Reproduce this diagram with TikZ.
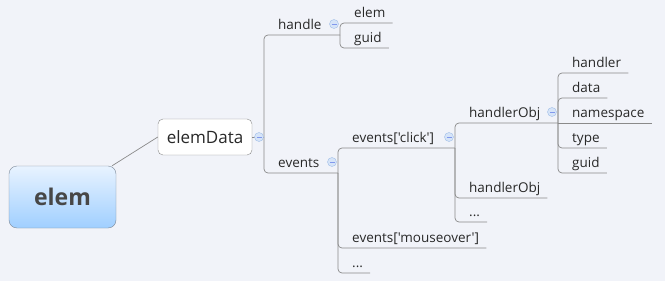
\documentclass[tikz,border=0pt]{standalone}
\usepackage{fontspec}
\setmainfont{Open Sans}[Ligatures=TeXOff]
\usepackage{tikz}
\usetikzlibrary{calc}
\definecolor{paper}{RGB}{241,243,249}
\definecolor{wire}{RGB}{138,138,138}
\definecolor{txt}{RGB}{40,40,40}
\definecolor{rootTop}{RGB}{232,243,255}
\definecolor{rootBot}{RGB}{160,207,255}
\definecolor{rootLine}{RGB}{125,138,153}
\definecolor{foldFill}{RGB}{214,228,248}
\definecolor{foldLine}{RGB}{160,190,232}

\begin{document}
\begin{tikzpicture}[x=1pt, y=-1pt,
  ln/.style={draw=wire, line width=0.7pt, rounded corners=4pt},
  root/.style={draw=rootLine, rounded corners=8pt, top color=rootTop, bottom color=rootBot,
    minimum width=107pt, minimum height=62pt, text=black!72,
    font=\fontsize{23}{27}\selectfont\bfseries},
  main/.style={draw=wire, fill=white, rounded corners=5pt, minimum width=94pt,
    minimum height=36pt, text=txt, font=\fontsize{17}{20}\selectfont},
  topic/.style={anchor=south west, inner xsep=7pt, inner ysep=2pt, text height=10pt,
    text depth=3pt, text=txt, font=\fontsize{13.5}{16}\selectfont,
    execute at begin node={\hspace*{7pt}}},
  fold/.style={circle, minimum size=9pt, inner sep=0pt, fill=foldFill, draw=foldLine,
    path picture={\draw[foldLine!80!blue, line width=0.8pt]
      ([xshift=-2.5pt]path picture bounding box.center) --
      ([xshift=2.5pt]path picture bounding box.center);}}]
  \fill[paper] (0,0) rectangle (665,281);
  \useasboundingbox (0,0) rectangle (665,281);
  % root and first level
  \node[root] (elem) at (62.5,197) {elem};
  \node[main] (elemData) at (205,137) {elemData};
  \draw[ln] (elem) -- (elemData.west);
  % branch points
  \coordinate (jData) at (264,137);
  \coordinate (jHandle) at (340,35);
  \coordinate (jEvents) at (338,173);
  \coordinate (jClick) at (455,148);
  \coordinate (jObj) at (558,123);
  % topics
  \node[topic] (handle) at (264,35) {handle};
  \node[topic] (elemA) at (340,23) {elem};
  \node[topic] (guidA) at (340,48) {guid};
  \node[topic] (events) at (264,173) {events};
  \node[topic] (click) at (338,148) {events['click']};
  \node[topic] (mouse) at (338,248) {events['mouseover']};
  \node[topic] (dotsA) at (338,273) {...};
  \node[topic] (obj1) at (455,123) {handlerObj};
  \node[topic] (obj2) at (455,198) {handlerObj};
  \node[topic] (dotsB) at (455,222) {...};
  \node[topic] (handler) at (558,73) {handler};
  \node[topic] (data) at (558,98) {data};
  \node[topic] (ns) at (558,123) {namespace};
  \node[topic] (type) at (558,148) {type};
  \node[topic] (guidB) at (558,173) {guid};
  % connectors
  \draw[ln] (elemData.east) -- (jData);
  \foreach \p/\c/\j in {jData/handle/jHandle, jData/events/jEvents,
      jEvents/click/jClick, jClick/obj1/jObj}
    \draw[ln] (\p) -- (\p |- \c.south west) -- (\j);
  \foreach \p/\c in {jHandle/elemA, jHandle/guidA, jEvents/mouse, jEvents/dotsA,
      jClick/obj2, jClick/dotsB, jObj/handler, jObj/data, jObj/type, jObj/guidB}
    \draw[ln] (\p) -- (\p |- \c.south west) -- (\c.south east);
  \draw[ln] (jObj) -- (ns.south east);
  % fold markers
  \node[fold] (fData) at (259,137) {};
  \foreach \j in {jHandle, jEvents, jClick, jObj}
    \node[fold] (f\j) at ($(\j)+(-6,-11)$) {};
\end{tikzpicture}
\end{document}
